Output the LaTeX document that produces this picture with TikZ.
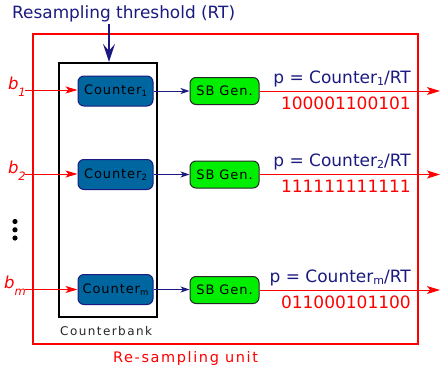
\documentclass[tikz,border=0pt]{standalone}
\usepackage{fontspec}
\setmainfont{DejaVu Sans}
\newfontfamily\spacedfont[LetterSpace=7]{DejaVu Sans}
\newfontfamily\spacedfontc[LetterSpace=12]{DejaVu Sans}
\newfontfamily\spacedfontb[LetterSpace=11]{DejaVu Sans}
\usetikzlibrary{arrows.meta}
\definecolor{navyc}{RGB}{26,26,128}
\definecolor{ctrfill}{RGB}{0,102,160}
\definecolor{sbgreen}{RGB}{0,238,0}
\definecolor{redc}{RGB}{255,0,0}
\begin{document}
\begin{tikzpicture}[x=1pt,y=-1pt,
  ctr/.style={draw=navyc, fill=ctrfill, line width=1pt, rounded corners=6pt,
    minimum width=75pt, minimum height=30pt, inner sep=0pt, text=black,
    font=\spacedfont\fontsize{13}{13}\selectfont},
  sbgen/.style={draw=black!85, fill=sbgreen, line width=1pt, rounded corners=6pt,
    minimum width=69pt, minimum height=27pt, inner sep=0pt, text=black,
    font=\spacedfont\fontsize{13}{13}\selectfont},
  inarrow/.style={draw=redc, line width=0.9pt, -{Stealth[length=12pt,width=7pt,inset=3pt]}},
  outarrow/.style={draw=redc, line width=1pt, -{Stealth[length=13pt,width=8pt,inset=3pt]}},
  midarrow/.style={draw=navyc, line width=1pt, -{Stealth[length=9pt,width=6pt,inset=2.5pt]}},
  blabel/.style={anchor=base east, inner sep=0pt, text=redc, font=\fontsize{16.5}{18}\selectfont\itshape},
  plabel/.style={anchor=base east, inner sep=0pt, text=navyc, font=\fontsize{17}{18}\selectfont},
  bits/.style={anchor=base east, inner sep=0pt, text=redc, font=\fontsize{17}{18}\selectfont}
]
\useasboundingbox (0,0) rectangle (440,373);

% outer re-sampling unit box
\node[draw=redc, line width=2.3pt, minimum width=385pt, minimum height=310pt, inner sep=0pt] (ru) at (225.5,189) {};
\node[anchor=base west, inner sep=0pt, text=redc, font=\spacedfontb\fontsize{14.5}{15}\selectfont] (rulbl) at (113,362) {Re-sampling unit};

% counterbank
\node[draw=black, line width=2.3pt, minimum width=98pt, minimum height=254pt, inner sep=0pt] (cb) at (108,190) {};
\node[anchor=base west, inner sep=0pt, text=black!85, font=\spacedfontc\fontsize{12}{12}\selectfont] (cblbl) at (60,335) {Counterbank};

% threshold
\node[anchor=base west, inner sep=0pt, text=navyc, font=\fontsize{16.9}{18}\selectfont] (rtlbl) at (12,18) {Resampling threshold (RT)};
\coordinate (rt) at (109,24);
\draw[draw=navyc, line width=1.3pt, -{Stealth[length=18pt,width=12pt,inset=7pt]}] (rt) -- (rt |- cb.north);

% counters
\node[ctr] (c1) at (115.5,91) {Counter\raisebox{-1.8pt}{\fontsize{8.5}{8}\selectfont 1}};
\node[ctr] (c2) at (115.5,174.5) {Counter\raisebox{-1.8pt}{\fontsize{8.5}{8}\selectfont 2}};
\node[ctr] (cm) at (115.5,289.5) {Counter\raisebox{-1.8pt}{\fontsize{8.5}{8}\selectfont m}};

% SB generators
\node[sbgen] (s1) at (224.5,91) {SB Gen.};
\node[sbgen] (s2) at (224.5,174.5) {SB Gen.};
\node[sbgen] (sm) at (224.5,290) {SB Gen.};

% inputs
\coordinate (i1) at (25,90);
\coordinate (i2) at (25,174);
\coordinate (im) at (25,289.5);
\draw[inarrow] (i1) -- (i1 -| c1.west);
\draw[inarrow] (i2) -- (i2 -| c2.west);
\draw[inarrow] (im) -- (im -| cm.west);
\node[blabel] (b1) at (26,89) {b\raisebox{-7pt}{\fontsize{11.5}{12}\selectfont 1}};
\node[blabel] (b2) at (26,173) {b\raisebox{-7pt}{\fontsize{11.5}{12}\selectfont 2}};
\node[blabel] (bm) at (26,288.5) {b\raisebox{-7pt}{\fontsize{11.5}{12}\selectfont m}};

% dots
\fill[black] (15,221.5) circle (2.6pt);
\fill[black] (15,229.8) circle (2.6pt);
\fill[black] (15,238) circle (2.6pt);

% counter -> SB
\draw[midarrow] (c1.east) -- (c1.east -| s1.west);
\draw[midarrow] (c2.east) -- (c2.east -| s2.west);
\draw[midarrow] (cm.east) -- (cm.east -| sm.west);

% outputs
\coordinate (o1) at (440,91);
\coordinate (o2) at (440,174.5);
\coordinate (om) at (440,290);
\draw[outarrow] (s1.east) -- (o1);
\draw[outarrow] (s2.east) -- (o2);
\draw[outarrow] (sm.east) -- (om);

\node[plabel] (p1) at (411,83) {p = Counter\raisebox{-2pt}{\fontsize{11}{11}\selectfont 1}/RT};
\node[plabel] (p2) at (411,166.5) {p = Counter\raisebox{-2pt}{\fontsize{11}{11}\selectfont 2}/RT};
\node[plabel] (pm) at (411,282) {p = Counter\raisebox{-2pt}{\fontsize{11}{11}\selectfont m}/RT};

\node[bits] (n1) at (411,109) {100001100101};
\node[bits] (n2) at (411,192.5) {111111111111};
\node[bits] (nm) at (411,308) {011000101100};
\end{tikzpicture}
\end{document}
